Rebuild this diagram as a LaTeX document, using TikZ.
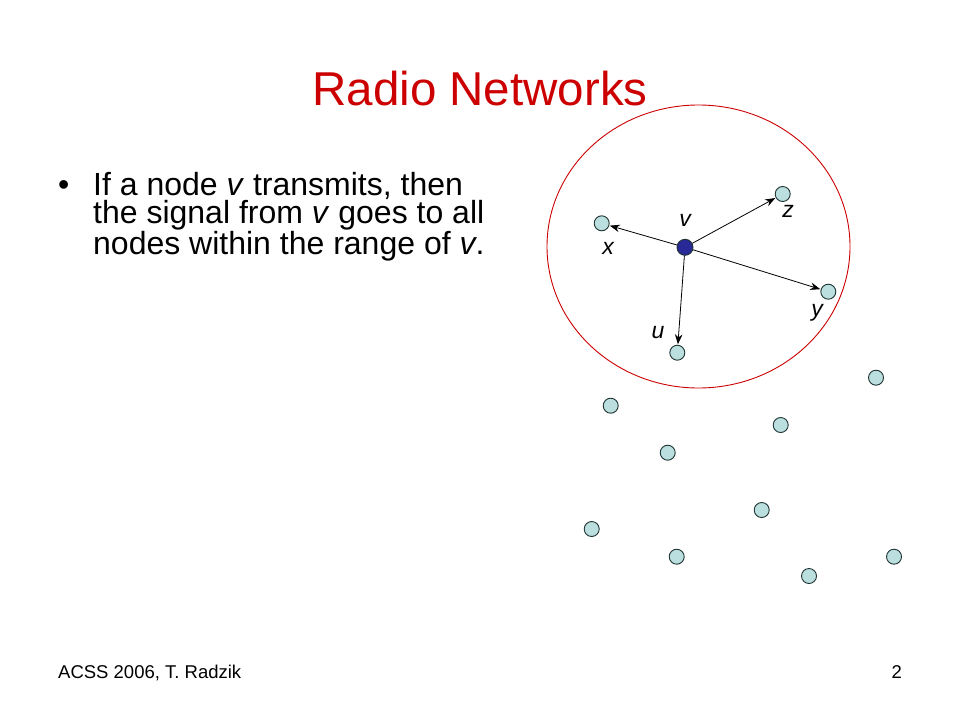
\documentclass[tikz,border=0pt]{standalone}
\usepackage{fontspec}
\setmainfont{Liberation Sans}
\usetikzlibrary{arrows.meta}
\definecolor{titlered}{RGB}{204,0,0}
\definecolor{nodefill}{RGB}{187,222,222}
\definecolor{nodeline}{RGB}{30,50,50}
\definecolor{vfill}{RGB}{40,40,150}
\tikzset{
  pt/.style={circle,draw=nodeline,fill=nodefill,line width=0.9pt,minimum size=15pt,inner sep=0pt},
  vpt/.style={circle,draw=nodeline,fill=vfill,line width=0.9pt,minimum size=16pt,inner sep=0pt},
  lbl/.style={font=\fontsize{23}{23}\selectfont\itshape,inner sep=0pt},
  body/.style={font=\fontsize{32}{28.5}\selectfont,anchor=base west,inner sep=0pt},
  sig/.style={-{Stealth[length=10pt,width=7.5pt]},line width=0.8pt,black,shorten >=0.5pt}
}
\begin{document}
\begin{tikzpicture}[x=1pt,y=-1pt]
\useasboundingbox (0,0) rectangle (960,720);
\fill[white] (0,0) rectangle (960,720);
% title
\node[font=\fontsize{47.5}{47.5}\selectfont,text=titlered,anchor=base,inner sep=0pt] (title) at (480,105) {Radio Networks};
% bullet text
\node[body] (bullet) at (58,195) {•};
\node[body] (para) at (93,195) {\vtop{\hbox{If a node \textit{v} transmits, then}\hbox{the signal from \textit{v} goes to all}\hbox{nodes within the range of \textit{v}.}}};
% range ellipse
\draw[titlered,line width=0.9pt] (698.5,246.5) ellipse [x radius=151.5, y radius=141.5];
% nodes in range
\node[vpt] (v) at (685,247.3) {};
\node[pt] (x) at (601.7,223.3) {};
\node[pt] (z) at (782.7,194) {};
\node[pt] (y) at (828.3,291.7) {};
\node[pt] (u) at (677.3,352.7) {};
% other nodes
\node[pt] (n1) at (876,377.7) {};
\node[pt] (n2) at (610.7,405.7) {};
\node[pt] (n3) at (780.7,425) {};
\node[pt] (n4) at (667.7,452.7) {};
\node[pt] (n5) at (761.7,510) {};
\node[pt] (n6) at (591.7,529) {};
\node[pt] (n7) at (676.7,556.7) {};
\node[pt] (n8) at (894,556.7) {};
\node[pt] (n9) at (809,576) {};
% arrows
\draw[sig] (v) -- (x);
\draw[sig] (v) -- (z);
\draw[sig] (v) -- (y);
\draw[sig] (v) -- (u);
% labels
\node[lbl] (lv) at (685,220) {v};
\node[lbl] (lz) at (788,211) {z};
\node[lbl] (lx) at (608,248) {x};
\node[lbl] (ly) at (817,313) {y};
\node[lbl] (lu) at (658,333) {u};
% footer
\node[font=\fontsize{18.5}{18.5}\selectfont,anchor=base west,inner sep=0pt] (foot) at (58,678) {ACSS 2006, T. Radzik};
\node[font=\fontsize{18.5}{18.5}\selectfont,anchor=base east,inner sep=0pt] (page) at (902,678) {2};
\end{tikzpicture}
\end{document}
